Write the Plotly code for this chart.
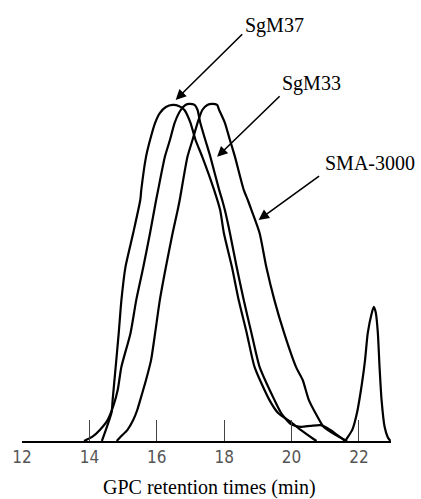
import plotly.graph_objects as go

# Retention time (min) and detector response (arbitrary units, main peak ~100)
sgm37_t = [14.37, 14.51, 14.66, 14.69, 14.78, 14.87, 14.95, 15.07, 15.30, 15.51, 15.54, 15.68, 15.80, 15.95,
           16.09, 16.27, 16.47, 16.65, 16.82, 17.00, 17.15, 17.35, 17.70, 17.88, 17.99, 18.23, 18.43, 18.67,
           18.90, 19.34, 19.60, 19.98, 20.27, 20.65, 20.74]
sgm37_v = [0, 3.9, 8.6, 12.2, 22.0, 32.0, 41.8, 51.6, 61.7, 71.5, 74.5, 84.3, 89.3, 94.4,
           97.3, 99.1, 99.7, 99.4, 98.2, 94.4, 89.3, 84.3, 74.5, 68.5, 61.7, 51.6, 41.8, 32.0,
           22.0, 12.2, 8.3, 5.6, 3.3, 0.6, 0]

sgm33_t = [13.84, 14.08, 14.31, 14.54, 14.72, 14.84, 14.95, 15.22, 15.39, 15.60, 15.80, 15.98, 16.04, 16.24,
           16.39, 16.53, 16.71, 16.85, 16.97, 17.12, 17.21, 17.29, 17.44, 17.59, 17.85, 17.94, 18.02, 18.17,
           18.37, 18.58, 18.81, 19.05, 19.49, 19.69, 19.98, 20.27, 20.57, 20.86, 21.15, 21.39, 21.59]
sgm33_v = [0, 1.2, 3.3, 6.2, 10.7, 15.1, 22.0, 32.0, 41.8, 51.6, 61.7, 71.5, 74.5, 84.3,
           89.3, 94.4, 98.2, 99.7, 100, 99.7, 98.2, 94.4, 89.3, 84.3, 74.5, 71.5, 68.5, 61.7,
           51.6, 41.8, 32.0, 22.0, 12.2, 8.3, 5.0, 4.2, 4.5, 4.7, 3.3, 1.5, 0]

sma_t = [14.81, 14.92, 15.13, 15.30, 15.42, 15.51, 15.68, 15.83, 15.95, 16.09, 16.27, 16.47, 16.62, 16.68,
         16.91, 17.06, 17.21, 17.35, 17.50, 17.64, 17.79, 17.85, 18.02, 18.17, 18.32, 18.58, 18.70, 18.81,
         19.05, 19.25, 19.49, 19.78, 20.13, 20.33, 20.51, 20.74, 20.95, 21.30, 21.65]
sma_v = [0, 1.2, 3.3, 6.2, 9.2, 12.2, 18.1, 24.0, 32.0, 41.8, 51.6, 61.7, 68.5, 71.5,
         84.3, 89.3, 94.4, 98.2, 99.7, 100, 99.7, 98.2, 94.4, 89.3, 84.3, 74.5, 71.5, 68.5,
         61.7, 51.6, 41.8, 32.0, 22.0, 18.1, 12.2, 7.7, 4.2, 1.8, 0]

small_t = [21.59, 21.65, 21.80, 21.94, 22.09, 22.18, 22.26, 22.38, 22.44, 22.50, 22.56, 22.61, 22.67, 22.76,
           22.85, 22.93]
small_v = [0, 0.9, 3.3, 8.3, 17.2, 24.0, 32.0, 38.0, 39.8, 38.0, 32.0, 22.0, 12.2, 4.2, 1.2, 0]

tick_vals = [12, 14, 16, 18, 20, 22]
tick_text = ["12", "14", "16", "18", "20", "22"]

line = dict(color="black", width=2.2, shape="spline", smoothing=0.6)

fig = go.Figure()
for name, t, v in [("SgM37", sgm37_t, sgm37_v), ("SgM33", sgm33_t, sgm33_v),
                   ("SMA-3000", sma_t, sma_v), ("SMA-3000 low", small_t, small_v)]:
    fig.add_trace(go.Scatter(x=t, y=v, mode="lines", line=line, name=name,
                             showlegend=False, hoverinfo="skip"))

serif = "Liberation Serif, Times New Roman, serif"
labels = [
    # text, text x, text y, arrow tail x, tail y, head x, head y
    ("SgM37", 19.49, 123.4, 18.58, 121.1, 16.56, 101.2),
    ("SgM33", 20.60, 106.2, 19.69, 102.7, 17.79, 84.3),
    ("SMA-3000", 22.32, 82.5, 20.86, 78.9, 19.02, 65.6),
]
ann = []
for txt, tx, ty, ax, ay, hx, hy in labels:
    ann.append(dict(x=tx, y=ty, xref="x", yref="y", text=txt, showarrow=False,
                    font=dict(family=serif, size=20, color="black"),
                    xanchor="center", yanchor="middle"))
    ann.append(dict(x=hx, y=hy, ax=ax, ay=ay, xref="x", yref="y", axref="x", ayref="y",
                    text="", showarrow=True, arrowhead=2, arrowsize=1.3, arrowwidth=1.6,
                    arrowcolor="black", standoff=0))
ann.append(dict(x=0.509, y=-0.1116, xref="paper", yref="paper",
                text="GPC retention times (min)", showarrow=False,
                font=dict(family=serif, size=20, color="black"),
                xanchor="center", yanchor="middle"))

fig.update_layout(
    width=421, height=499,
    margin=dict(l=17, r=30, t=20, b=58),
    paper_bgcolor="white", plot_bgcolor="white",
    annotations=ann,
    xaxis=dict(range=[12, 22.95], tickvals=tick_vals, ticktext=tick_text,
               ticks="inside", ticklen=21, tickwidth=1, tickcolor="#444",
               showline=True, linecolor="black", linewidth=2,
               showgrid=False, zeroline=False,
               tickfont=dict(family="Liberation Sans Narrow, Arial Narrow, DejaVu Sans Condensed, sans-serif",
                             size=17, color="#555")),
    yaxis=dict(range=[0, 124.9], visible=False, showgrid=False, zeroline=False),
)

fig.write_html("out.html", config={"displayModeBar": False},
               post_script="document.body.style.margin='0';document.body.style.overflow='hidden';")
